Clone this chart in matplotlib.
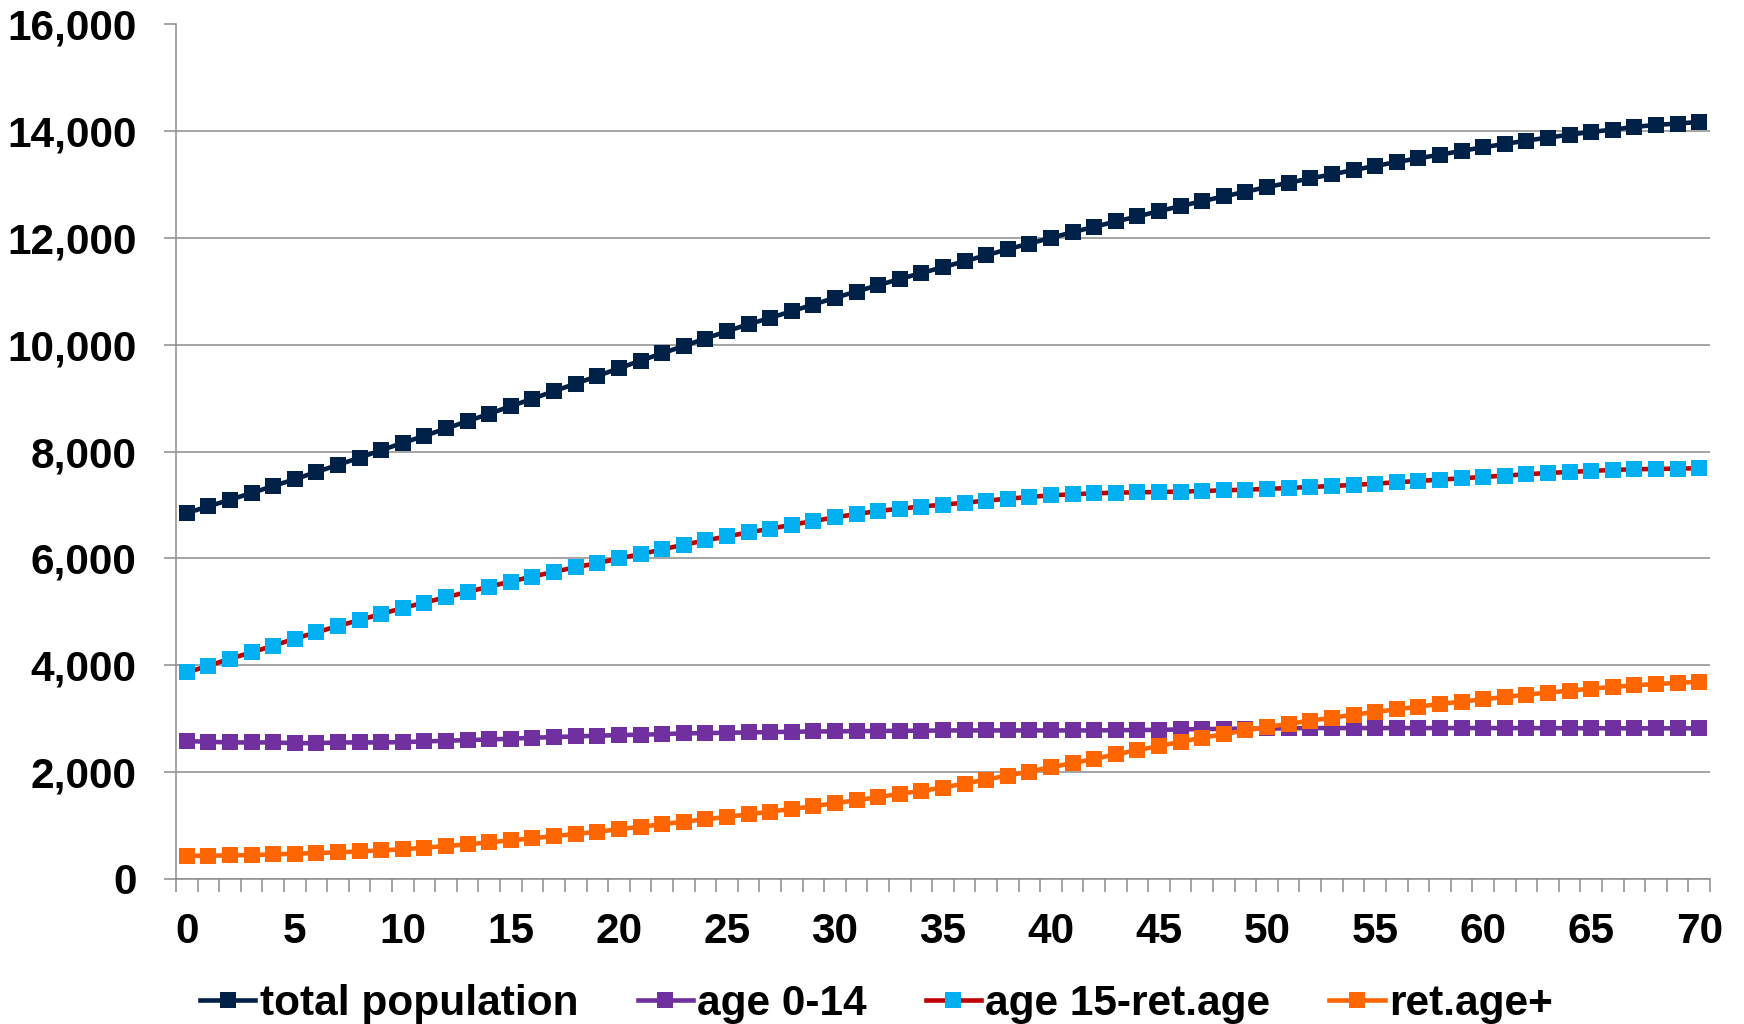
import matplotlib
matplotlib.use("Agg")
import matplotlib.pyplot as plt
from matplotlib.ticker import FuncFormatter, FixedLocator
import numpy as np

years = list(range(71))

total_population = [
    6850, 6973, 7098, 7224, 7355, 7480, 7618, 7750, 7887, 8025,
    8163, 8294, 8432, 8570, 8707, 8851, 8989, 9133, 9271, 9415,
    9559, 9703, 9840, 9978, 10116, 10254, 10385, 10504, 10629, 10754,
    10880, 10998, 11117, 11232, 11345, 11454, 11565, 11677, 11790, 11897,
    12003, 12110, 12210, 12310, 12404, 12504, 12598, 12692, 12779, 12867,
    12955, 13036, 13117, 13192, 13274, 13349, 13424, 13493, 13562, 13631,
    13700, 13762, 13825, 13881, 13937, 13987, 14031, 14081, 14119, 14144,
    14175,
]

age_0_14 = [
    2576, 2563, 2551, 2551, 2551, 2538, 2538, 2551, 2551, 2551,
    2557, 2570, 2582, 2595, 2607, 2620, 2639, 2651, 2664, 2676,
    2689, 2695, 2707, 2720, 2726, 2732, 2739, 2745, 2751, 2757,
    2757, 2764, 2764, 2770, 2770, 2776, 2776, 2776, 2776, 2776,
    2776, 2776, 2776, 2780, 2783, 2786, 2795, 2801, 2805, 2808,
    2812, 2816, 2820, 2820, 2820, 2820, 2820, 2820, 2820, 2820,
    2820, 2820, 2820, 2818, 2818, 2816, 2816, 2815, 2815, 2815,
    2815,
]

age_15_ret = [
    3862, 3987, 4119, 4238, 4363, 4495, 4613, 4732, 4845, 4958,
    5070, 5171, 5271, 5371, 5471, 5565, 5659, 5747, 5834, 5909,
    5997, 6078, 6166, 6254, 6335, 6410, 6485, 6554, 6629, 6698,
    6767, 6830, 6886, 6930, 6970, 7005, 7042, 7080, 7117, 7149,
    7180, 7199, 7218, 7230, 7236, 7243, 7249, 7261, 7274, 7286,
    7299, 7318, 7336, 7355, 7374, 7399, 7424, 7449, 7474, 7499,
    7524, 7549, 7574, 7599, 7618, 7637, 7656, 7668, 7674, 7681,
    7687,
]

ret_age_plus = [
    429, 429, 435, 441, 454, 466, 479, 491, 510, 529,
    548, 580, 610, 642, 679, 717, 754, 798, 836, 879,
    923, 973, 1017, 1067, 1111, 1155, 1205, 1255, 1305, 1355,
    1412, 1468, 1524, 1590, 1643, 1706, 1781, 1856, 1931, 2006,
    2088, 2163, 2244, 2326, 2407, 2482, 2563, 2639, 2707, 2776,
    2839, 2901, 2958, 3014, 3070, 3121, 3171, 3221, 3271, 3315,
    3358, 3402, 3446, 3484, 3521, 3559, 3590, 3621, 3646, 3665,
    3690,
]

series = [
    ("total population", total_population, "#002147", "#002147"),
    ("age 0-14", age_0_14, "#7030A0", "#7030A0"),
    ("age 15-ret.age", age_15_ret, "#C00000", "#00B0F0"),
    ("ret.age+", ret_age_plus, "#FF6600", "#FF6600"),
]

plt.rcParams["font.family"] = ["Liberation Sans", "DejaVu Sans"]
plt.rcParams["font.weight"] = "bold"

grid_grey = "#8C8C8C"

fig = plt.figure(figsize=(17.44, 10.24), dpi=100)
ax = fig.add_axes([176 / 1744, 1 - 878.6 / 1024, (1710 - 176) / 1744, (878.6 - 24.5) / 1024])

for name, vals, line_c, marker_c in series:
    ax.plot(years, vals, color=line_c, linewidth=3.3, marker="s", markersize=11.5,
            markerfacecolor=marker_c, markeredgecolor=marker_c, markeredgewidth=0,
            label=name, clip_on=False, zorder=3)

ax.set_xlim(-0.5, 70.5)
ax.set_ylim(0, 16000)

ax.set_yticks(np.arange(0, 16001, 2000))
ax.yaxis.set_major_formatter(FuncFormatter(lambda v, _: f"{int(v):,}"))
ax.tick_params(axis="y", length=8.5, width=1.1, color=grid_grey, pad=20, labelsize=30.5)

# labelled categories every 5 years, tick marks between every category
ax.set_xticks(range(0, 71, 5))
ax.xaxis.set_minor_locator(FixedLocator(np.arange(-0.5, 71, 1.0)))
ax.tick_params(axis="x", which="major", length=0, pad=24, labelsize=30.5)
ax.tick_params(axis="x", which="minor", length=9.5, width=1.1, color=grid_grey)

for lab in ax.get_xticklabels() + ax.get_yticklabels():
    lab.set_fontweight("bold")

ax.grid(axis="y", color=grid_grey, linewidth=1.1, zorder=0)
ax.set_axisbelow(True)
for side in ("top", "right"):
    ax.spines[side].set_visible(False)
for side in ("left", "bottom"):
    ax.spines[side].set_color(grid_grey)
    ax.spines[side].set_linewidth(1.1)

fig.legend(loc="center", bbox_to_anchor=(0.5026, 1 - 1004 / 1024), ncol=4, frameon=False,
           handlelength=1.3, handletextpad=0.1, columnspacing=1.4,
           prop={"weight": "bold", "size": 30.5})

fig.savefig("out.png", dpi=100)
